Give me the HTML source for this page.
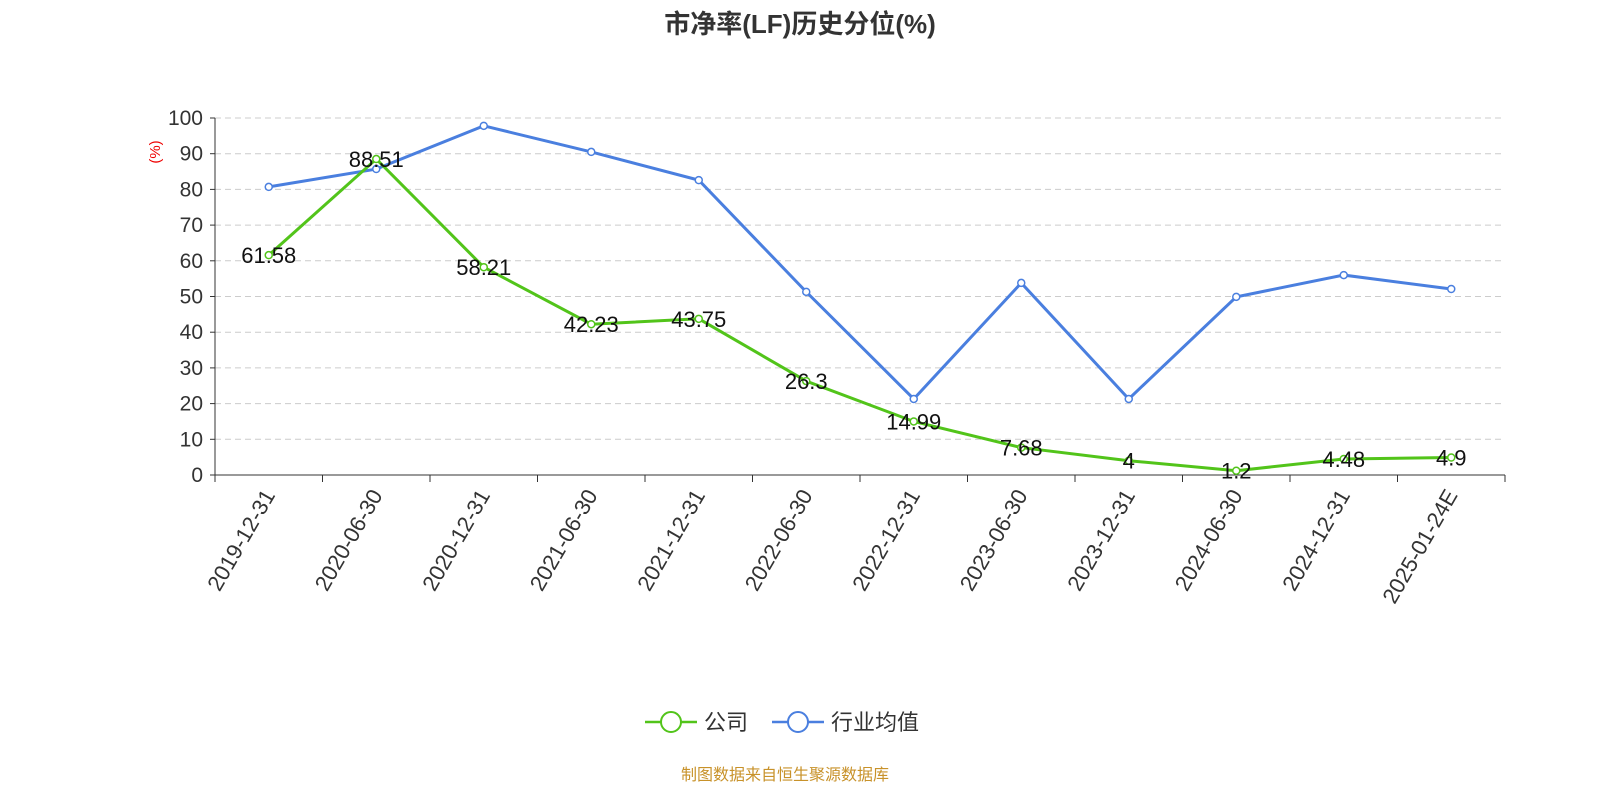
<!DOCTYPE html>
<html><head><meta charset="utf-8"><style>
body{margin:0;background:#fff;}
svg{display:block;font-family:"Liberation Sans","Noto Sans CJK SC",sans-serif;}
</style></head><body>
<svg id="c" width="1600" height="800">
<text x="800" y="33" text-anchor="middle" font-size="26" font-weight="bold" fill="#333">市净率(LF)历史分位(%)</text>
<text transform="translate(160,152) rotate(-90)" text-anchor="middle" font-size="15" fill="#e00">(%)</text>
<g id="grid"></g><g id="axes"></g><g id="lines"></g><g id="labels"></g>
<g>
<g>
<line x1="645" y1="722" x2="697" y2="722" stroke="#52c41a" stroke-width="2.5"/>
<circle cx="671" cy="722" r="10" fill="#fff" stroke="#52c41a" stroke-width="2"/>
<text x="704" y="730" font-size="22" fill="#333">公司</text></g>
<g>
<line x1="772" y1="722" x2="824" y2="722" stroke="#4a7fdf" stroke-width="2.5"/>
<circle cx="798" cy="722" r="10" fill="#fff" stroke="#4a7fdf" stroke-width="2"/>
<text x="831" y="730" font-size="22" fill="#333">行业均值</text></g>
</g>
<text x="785" y="780" text-anchor="middle" font-size="16" fill="#c8922a">制图数据来自恒生聚源数据库</text>
</svg>
<script>
const categories=["2019-12-31","2020-06-30","2020-12-31","2021-06-30","2021-12-31","2022-06-30","2022-12-31","2023-06-30","2023-12-31","2024-06-30","2024-12-31","2025-01-24E"];
const companyValues=[61.58,88.51,58.21,42.23,43.75,26.3,14.99,7.68,4,1.2,4.48,4.9];
const industryValues=[80.7,85.7,97.8,90.5,82.6,51.3,21.3,53.8,21.3,49.9,56,52.1];
const yTicks=[0,10,20,30,40,50,60,70,80,90,100];
const NS="http://www.w3.org/2000/svg";
const x0=215,x1=1505,yb=475,yt=118;
const bw=(x1-x0)/categories.length;
const xs=i=>x0+bw*(i+0.5);
const ys=v=>yb-(v/100)*(yb-yt);
function mk(t,a,p){const e=document.createElementNS(NS,t);for(const k in a)e.setAttribute(k,a[k]);p.appendChild(e);return e;}
const grid=document.getElementById('grid'),axes=document.getElementById('axes'),lines=document.getElementById('lines'),labels=document.getElementById('labels');
yTicks.forEach(v=>{
 if(v>0){const g=mk('line',{x1:x0,x2:x1,y1:ys(v),y2:ys(v),stroke:'#ccc','stroke-dasharray':'6,4'},grid);
 
 }
 mk('line',{x1:x0-5,x2:x0,y1:ys(v),y2:ys(v),stroke:'#333'},axes);
 const t=mk('text',{x:x0-12,y:ys(v)+7,'text-anchor':'end','font-size':21,fill:'#333'},axes);t.textContent=v;
 
 
});
mk('line',{x1:x0,x2:x0,y1:yt,y2:yb,stroke:'#333'},axes);
mk('line',{x1:x0,x2:x1,y1:yb,y2:yb,stroke:'#333'},axes);
for(let i=0;i<=categories.length;i++)mk('line',{x1:x0+bw*i,x2:x0+bw*i,y1:yb,y2:yb+7,stroke:'#333'},axes);
categories.forEach((c,i)=>{
 const t=mk('text',{transform:`translate(${xs(i)+7},${yb+20}) rotate(-60)`,'text-anchor':'end','font-size':22,fill:'#333'},axes);t.textContent=c;
 
 
});
function series(vals,color,name){
 const p=mk('polyline',{points:vals.map((v,i)=>xs(i)+','+ys(v)).join(' '),fill:'none',stroke:color,'stroke-width':3},lines);
 
 
 vals.forEach((v,i)=>{const c=mk('circle',{cx:xs(i),cy:ys(v),r:3.5,fill:'#fff',stroke:color,'stroke-width':1.5},lines);
 
 });
}
series(industryValues,'#4a7fdf','industry-avg');
series(companyValues,'#52c41a','company');
companyValues.forEach((v,i)=>{
 const t=mk('text',{x:xs(i),y:ys(v)+8,'text-anchor':'middle','font-size':22,fill:'#111'},labels);t.textContent=v;
 
 
});
</script>
</body></html>
